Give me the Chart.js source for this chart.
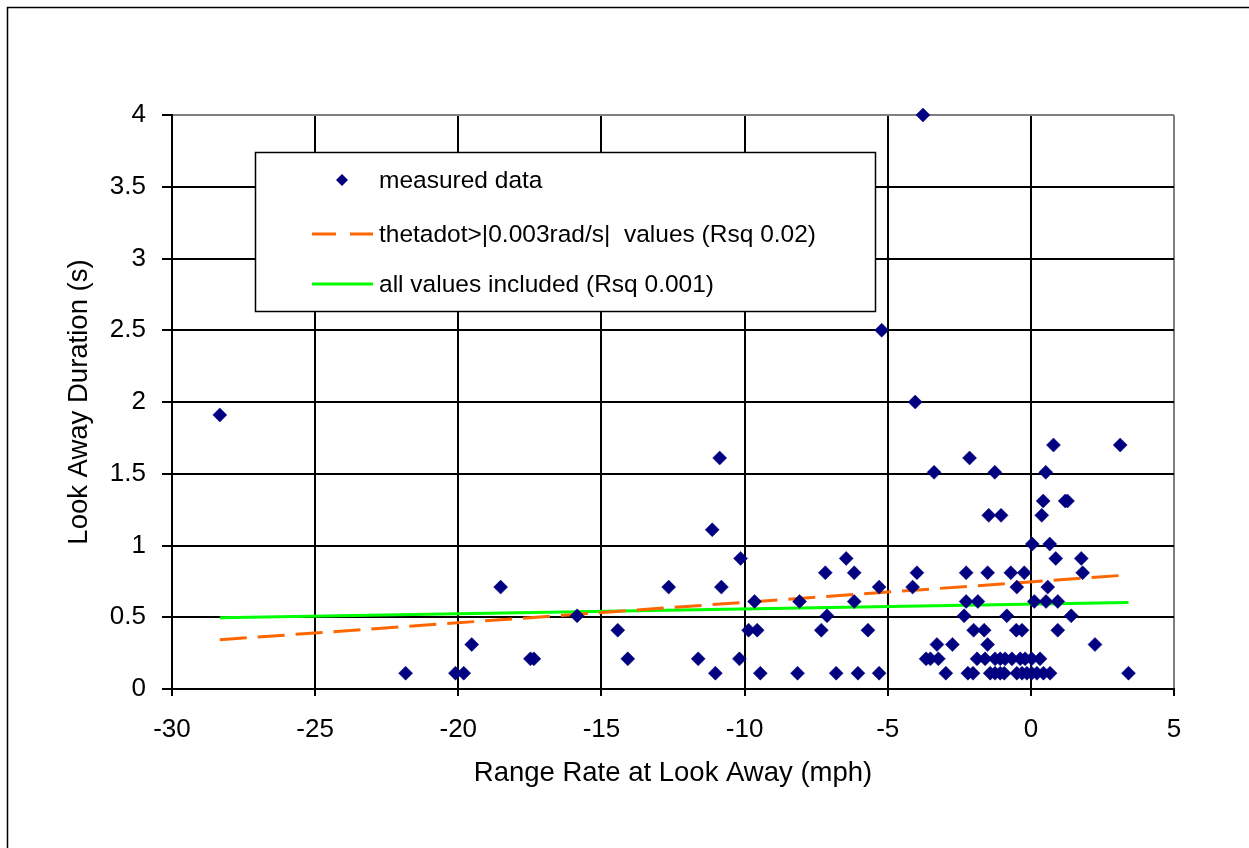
<!DOCTYPE html>
<html>
<head>
<meta charset="utf-8">
<script src="https://cdn.jsdelivr.net/npm/chart.js@4.4.1/dist/chart.umd.min.js"></script>
<style>
  html, body { margin: 0; padding: 0; background: #fff; }
  #wrap { width: 1249px; height: 848px; }
</style>
</head>
<body>
<div id="wrap"><canvas id="chart" width="1249" height="848"></canvas></div>
<script>
// measured look-away events
const measuredX = [
  -28.33, -21.84, -20.10, -19.81, -19.53, -18.52, -17.48, -17.36, -15.85, -14.43,
  -14.08, -12.65, -11.62, -11.13, -11.02, -10.87, -10.81, -10.18, -10.14, -9.86,
  -9.65, -9.56, -9.45, -8.15, -8.08, -7.32, -7.18, -7.12, -6.80, -6.45,
  -6.17, -6.17, -6.04, -5.69, -5.30, -5.30, -5.21, -4.13, -4.04, -3.98,
  -3.77, -3.66, -3.51, -3.38, -3.28, -3.23, -2.97, -2.74, -2.33, -2.26,
  -2.26, -2.20, -2.14, -2.02, -2.00, -1.88, -1.85, -1.63, -1.60, -1.51,
  -1.51, -1.47, -1.42, -1.26, -1.25, -1.25, -1.07, -1.07, -1.04, -0.93,
  -0.90, -0.84, -0.70, -0.66, -0.51, -0.49, -0.49, -0.37, -0.31, -0.31,
  -0.23, -0.20, -0.14, 0.03, 0.03, 0.05, 0.12, 0.21, 0.32, 0.38,
  0.43, 0.44, 0.52, 0.53, 0.59, 0.66, 0.67, 0.79, 0.87, 0.94,
  0.94, 1.20, 1.28, 1.41, 1.76, 1.81, 2.24, 3.12, 3.41,
];
const measuredY = [
  1.91, 0.11, 0.11, 0.11, 0.31, 0.71, 0.21, 0.21, 0.51, 0.41,
  0.21, 0.71, 0.21, 1.11, 0.11, 1.61, 0.71, 0.21, 0.91, 0.41,
  0.61, 0.41, 0.11, 0.11, 0.61, 0.41, 0.81, 0.51, 0.11, 0.91,
  0.81, 0.61, 0.11, 0.41, 0.71, 0.11, 2.50, 0.71, 2.00, 0.81,
  4.00, 0.21, 0.21, 1.51, 0.31, 0.21, 0.11, 0.31, 0.51, 0.81,
  0.61, 0.11, 1.61, 0.11, 0.41, 0.21, 0.61, 0.41, 0.21, 0.81,
  0.31, 1.21, 0.11, 1.51, 0.21, 0.11, 0.21, 0.11, 1.21, 0.11,
  0.21, 0.51, 0.81, 0.21, 0.41, 0.71, 0.11, 0.21, 0.41, 0.11,
  0.81, 0.21, 0.11, 0.21, 0.11, 1.01, 0.61, 0.11, 0.21, 1.21,
  1.31, 0.11, 1.51, 0.61, 0.71, 1.01, 0.11, 1.70, 0.91, 0.61,
  0.41, 1.31, 1.31, 0.51, 0.91, 0.81, 0.31, 1.70, 0.11,
];

// linear fits, evaluated at the ends of the data range
const fitX = [-28.33, 3.41];
const fitThetadot = [0.343, 0.795];
const fitAll = [0.496, 0.602];

const xTicks = { min: -30, max: 5, step: 5 };
const yTicks = { min: 0, max: 4, step: 0.5 };

const legendLabels = [
  'measured data',
  'thetadot>|0.003rad/s|  values (Rsq 0.02)',
  'all values included (Rsq 0.001)',
];

const FONT = '"Liberation Sans", Arial, sans-serif';
const NAVY = '#000080';
const ORANGE = '#FF6600';
const GREEN = '#00FF00';

const zip = (xs, ys) => xs.map((x, i) => ({ x, y: ys[i] }));

// white page + the outer frame that runs off the right/bottom edge
const framePlugin = {
  id: 'frame',
  beforeDraw(chart) {
    const { ctx } = chart;
    ctx.save();
    ctx.fillStyle = '#fff';
    ctx.fillRect(0, 0, chart.width, chart.height);
    ctx.strokeStyle = '#000';
    ctx.lineWidth = 1.5;
    ctx.strokeRect(7.5, 7.5, chart.width + 20, chart.height + 20);
    ctx.restore();
  },
};

// boxed legend sitting inside the plot, like the Excel original
const boxLegend = {
  id: 'boxLegend',
  afterDatasetsDraw(chart) {
    const { ctx } = chart;
    const box = { left: 255.5, top: 152.5, right: 875.5, bottom: 311.5 };
    ctx.save();
    ctx.fillStyle = '#fff';
    ctx.fillRect(box.left, box.top, box.right - box.left, box.bottom - box.top);
    ctx.strokeStyle = '#000';
    ctx.lineWidth = 1.5;
    ctx.strokeRect(box.left, box.top, box.right - box.left, box.bottom - box.top);

    const rows = [180, 234, 284];
    const textX = 379;
    ctx.font = '24.5px ' + FONT;
    ctx.fillStyle = '#000';
    ctx.textBaseline = 'middle';
    ctx.textAlign = 'left';
    legendLabels.forEach((label, i) => ctx.fillText(label, textX, rows[i] + 1));

    // diamond
    ctx.fillStyle = NAVY;
    ctx.beginPath();
    ctx.moveTo(342, rows[0] - 6);
    ctx.lineTo(348, rows[0]);
    ctx.lineTo(342, rows[0] + 6);
    ctx.lineTo(336, rows[0]);
    ctx.closePath();
    ctx.fill();

    ctx.lineWidth = 3;
    ctx.strokeStyle = ORANGE;
    ctx.setLineDash([24, 14]);
    ctx.beginPath();
    ctx.moveTo(312, rows[1]);
    ctx.lineTo(373, rows[1]);
    ctx.stroke();

    ctx.setLineDash([]);
    ctx.strokeStyle = GREEN;
    ctx.beginPath();
    ctx.moveTo(312, rows[2]);
    ctx.lineTo(373, rows[2]);
    ctx.stroke();
    ctx.restore();
  },
};

new Chart(document.getElementById('chart'), {
  type: 'scatter',
  data: {
    datasets: [
      {
        label: legendLabels[0],
        data: zip(measuredX, measuredY),
        pointStyle: 'rectRot',
        pointRadius: 7,
        pointBackgroundColor: NAVY,
        pointBorderColor: NAVY,
        pointBorderWidth: 0.5,
        showLine: false,
        clip: false,
      },
      {
        label: legendLabels[1],
        data: zip(fitX, fitThetadot),
        showLine: true,
        borderColor: ORANGE,
        borderWidth: 3,
        borderDash: [27, 11],
        pointRadius: 0,
        fill: false,
      },
      {
        label: legendLabels[2],
        data: zip(fitX, fitAll),
        showLine: true,
        borderColor: GREEN,
        borderWidth: 3,
        pointRadius: 0,
        fill: false,
      },
    ],
  },
  options: {
    responsive: false,
    animation: false,
    events: [],
    layout: { padding: { left: 0, top: 115, right: 75, bottom: 0 } },
    plugins: {
      legend: { display: false },
      tooltip: { enabled: false },
    },
    scales: {
      x: {
        type: 'linear',
        min: xTicks.min,
        max: xTicks.max,
        afterFit: (scale) => { scale.height = 159; },
        ticks: {
          stepSize: xTicks.step,
          color: '#000',
          padding: 18,
          font: { family: FONT, size: 26 },
          callback: (v) => String(v),
        },
        grid: {
          color: (c) => (c.tick && c.tick.value === xTicks.max ? '#808080' : '#000'),
          lineWidth: 2,
          tickLength: 7,
          tickColor: '#000',
        },
        border: { color: '#000', width: 2 },
        title: {
          display: true,
          text: 'Range Rate at Look Away (mph)',
          color: '#000',
          font: { family: FONT, size: 27.5 },
          padding: { top: 0, bottom: 58 },
        },
      },
      y: {
        type: 'linear',
        min: yTicks.min,
        max: yTicks.max,
        afterFit: (scale) => { scale.width = 172; },
        ticks: {
          stepSize: yTicks.step,
          color: '#000',
          padding: 16,
          font: { family: FONT, size: 26 },
          callback: (v) => String(v),
        },
        grid: {
          color: (c) => (c.tick && c.tick.value === yTicks.max ? '#808080' : '#000'),
          lineWidth: 2,
          tickLength: 10,
          tickColor: '#000',
        },
        border: { color: '#000', width: 2 },
        title: {
          display: true,
          text: 'Look Away Duration (s)',
          color: '#000',
          font: { family: FONT, size: 27.5 },
          padding: { top: 63, bottom: 0 },
        },
      },
    },
  },
  plugins: [framePlugin, boxLegend],
});
</script>
</body>
</html>
